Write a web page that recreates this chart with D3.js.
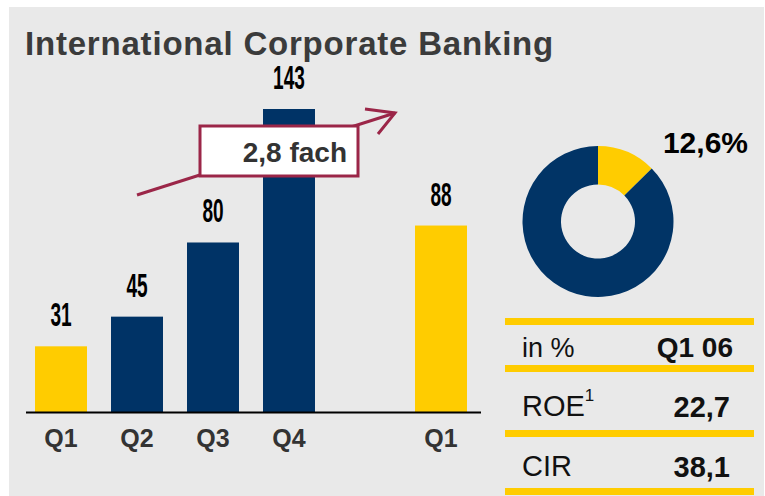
<!DOCTYPE html>
<html><head><meta charset="utf-8">
<script src="https://cdn.jsdelivr.net/npm/d3@7"></script>
<style>body{margin:0;background:#fff}svg{display:block}</style>
</head><body>
<svg id="c" width="765" height="496"></svg>
<script>
const barIds = ["q1_05","q2_05","q3_05","q4_05","gap","q1_06"];
const barLabels = ["Q1","Q2","Q3","Q4","","Q1"];
const barValues = [31,45,80,143,null,88];
const barColors = ["#FFCC00","#003366","#003366","#003366",null,"#FFCC00"];
const growthLabel = "2,8 fach";
const donutValues = [12.6, 87.4];
const donutColors = ["#FFCC00","#013466"];
const donutLabel = "12,6%";
const tableHeader = ["in %","Q1 06"];
const tableRows = ["ROE","CIR"];
const tableSup = ["1",""];
const tableValues = ["22,7","38,1"];

const font = "Liberation Sans, Arial, sans-serif";
const svg = d3.select("#c");
svg.append("rect").attr("x",9).attr("y",7).attr("width",755).attr("height",489).attr("fill","#e9e9e9");
svg.append("text").attr("x",25).attr("y",55).text("International Corporate Banking")
  .attr("font-family",font).attr("font-weight","bold")
  .attr("font-size",33).attr("letter-spacing",0.8).attr("fill","#3b3b3b");

const x = d3.scaleBand().domain(barIds).range([23,479]).paddingInner(0.316).paddingOuter(0.158);
const y = d3.scaleLinear().domain([0,143]).range([412,109]);

const data = barIds.map((id,i)=>({id,label:barLabels[i],v:barValues[i],c:barColors[i]}));
const bars = data.filter(d=>d.v!=null);
svg.append("g").selectAll("rect").data(bars).join("rect")
  .attr("x",d=>x(d.id)).attr("width",x.bandwidth())
  .attr("y",d=>y(d.v)).attr("height",d=>y(0)-y(d.v)).attr("fill",d=>d.c);

// axis baseline
svg.append("line").attr("x1",26).attr("x2",481).attr("y1",y(0)+0.5).attr("y2",y(0)+0.5)
  .attr("stroke","#000").attr("stroke-width",2);

// value labels (condensed)
svg.append("g").selectAll("text").data(bars).join("text")
  .attr("transform",d=>`translate(${x(d.id)+x.bandwidth()/2},${y(d.v)-20}) scale(0.56,1)`)
  .attr("text-anchor","middle").attr("font-family",font)
  .attr("font-weight","bold").attr("font-size",34).attr("fill","#000").text(d=>d.v);

// category labels
svg.append("g").selectAll("text").data(data.filter(d=>d.label)).join("text")
  .attr("x",d=>x(d.id)+x.bandwidth()/2).attr("y",447).attr("text-anchor","middle")
  .attr("font-family",font).attr("font-weight","bold")
  .attr("font-size",25).attr("fill","#333").text(d=>d.label);

// growth arrow
const maroon = "#9B2648";
svg.append("line").attr("x1",137).attr("y1",195).attr("x2",395).attr("y2",113)
  .attr("stroke",maroon).attr("stroke-width",3);
svg.append("path").attr("d","M365,109 L395,113 L378,134").attr("fill","none")
  .attr("stroke",maroon).attr("stroke-width",3).attr("stroke-linejoin","miter");
svg.append("rect").attr("x",200).attr("y",126).attr("width",158).attr("height",50)
  .attr("fill","#fff").attr("stroke",maroon).attr("stroke-width",3);
svg.append("text").attr("x",347).attr("y",162).attr("text-anchor","end")
  .attr("font-family",font).attr("font-weight","bold")
  .attr("font-size",28).attr("fill","#333").text(growthLabel);

// donut
const pie = d3.pie().sort(null)(donutValues);
const arc = d3.arc().innerRadius(37).outerRadius(75.5);
svg.append("g").attr("transform","translate(598,221.5)").selectAll("path").data(pie).join("path")
  .attr("d",arc).attr("fill",(d,i)=>donutColors[i]);
svg.append("text").attr("x",748).attr("y",153).attr("text-anchor","end")
  .attr("font-family",font).attr("font-weight","bold")
  .attr("font-size",30).attr("fill","#000").text(donutLabel);

// table
const lineYs = [321.5,368.5,433.5,491.5];
svg.append("g").selectAll("line").data(lineYs).join("line")
  .attr("x1",505).attr("x2",754).attr("y1",d=>d).attr("y2",d=>d)
  .attr("stroke","#FFCC00").attr("stroke-width",7);
svg.append("text").attr("x",522).attr("y",357).attr("font-family",font).attr("font-size",27)
  .attr("fill","#111").text(tableHeader[0]);
svg.append("text").attr("x",733).attr("y",357).attr("text-anchor","end").attr("font-family",font)
  .attr("font-weight","bold").attr("font-size",28).attr("fill","#111").text(tableHeader[1]);
const rowYs = [416,476];
tableRows.forEach((r,i)=>{
  const t = svg.append("text").attr("x",522).attr("y",rowYs[i]).attr("font-family",font)
    .attr("font-size",29).attr("fill","#111").text(r);
  if (tableSup[i]) t.append("tspan").attr("font-size",17).attr("dy",-15).text(tableSup[i]);
  svg.append("text").attr("x",730).attr("y",rowYs[i]+1).attr("text-anchor","end").attr("font-family",font)
    .attr("font-weight","bold").attr("font-size",29).attr("fill","#111").text(tableValues[i]);
});
</script>
</body></html>
